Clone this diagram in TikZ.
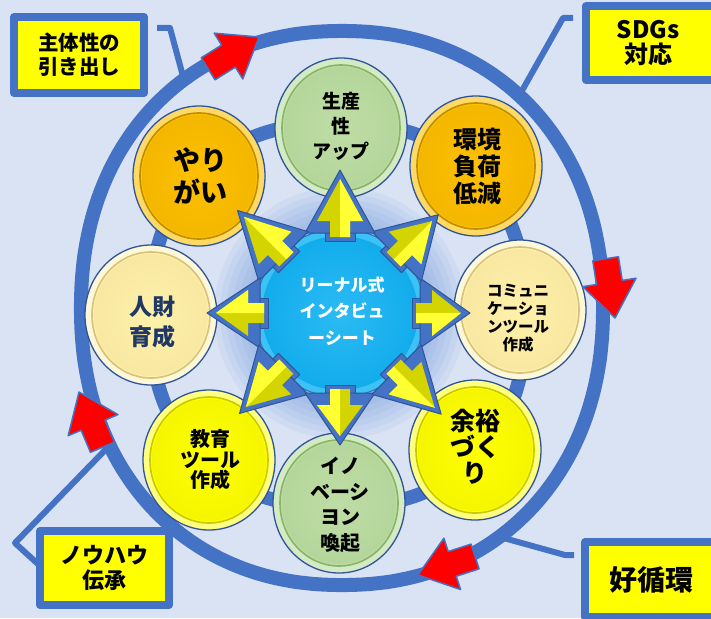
\documentclass[tikz,border=0pt]{standalone}
\usepackage{fontspec}
\setmainfont{Noto Sans CJK JP}
\definecolor{bgc}{HTML}{DAE3F3}
\definecolor{ringblue}{HTML}{4472C4}
\definecolor{edgeblue}{HTML}{2F5597}
\definecolor{boxyellow}{HTML}{FFFF00}
\definecolor{arrred}{HTML}{FF0000}
\definecolor{halo}{HTML}{6F9BE0}
\definecolor{goldrim}{HTML}{FFD966}
\definecolor{goldbase}{HTML}{FFC000}
\definecolor{golddark}{HTML}{BF8F00}
\definecolor{grnrim}{HTML}{D3EAC4}
\definecolor{grnbase}{HTML}{BEDDA6}
\definecolor{grndark}{HTML}{86B566}
\definecolor{crmrim}{HTML}{FFF8D8}
\definecolor{crmbase}{HTML}{FFF0AA}
\definecolor{crmdark}{HTML}{D6C27A}
\definecolor{ylwrim}{HTML}{FFFF80}
\definecolor{ylwbase}{HTML}{FFFF00}
\definecolor{ylwdark}{HTML}{C9C900}
\definecolor{cyrim}{HTML}{3CC2F5}
\definecolor{cybase}{HTML}{12ACEC}
\definecolor{cylight}{HTML}{2CBBF4}
\definecolor{cyedge}{HTML}{2A7FC0}
\definecolor{yeldark}{HTML}{D4D400}
\definecolor{yellight}{HTML}{FFFF33}
\definecolor{navy}{HTML}{1F3864}
\tikzset{
  ringline/.style={draw=ringblue, line width=14},
  callout/.style={draw=ringblue, line width=6},
  labelbox/.style={draw=ringblue, line width=8, fill=boxyellow, inner sep=0, align=center, text=black},
  ctext/.style={align=center, inner sep=0, text=black},
}
\newcommand\redarr[3]{%
  \begin{scope}[shift={(#1,#2)}, rotate=#3]
    \filldraw[fill=arrred, draw=ringblue, line width=1.5]
      (0,0) -- (-36,27) -- (-36,13) -- (-60,13) -- (-60,-13) -- (-36,-13) -- (-36,-27) -- cycle;
  \end{scope}}
\newcommand\btn[5]{%
  \filldraw[fill=#3, draw=edgeblue, line width=1.3] (#1,#2) ellipse [x radius=66, y radius=70];
  \filldraw[fill=#4, draw=#5, line width=1.6] (#1,#2) ellipse [x radius=59, y radius=63];
  \shade[inner color=#4, outer color=#4!82!#5] (#1,#2) ellipse [x radius=57, y radius=61];}
\newcommand\stararm[2]{%
  \begin{scope}[shift={(340,313)}, rotate=#1]
    \filldraw[fill=ringblue, draw=edgeblue, line width=1] (72,15) rectangle (92,-15);
    \filldraw[fill=ringblue, draw=edgeblue, line width=1] (#2,0) -- (80,35) -- (80,-35) -- cycle;
    \fill[yeldark] (#2-9,0) -- (92,23) -- (92,10) -- (76,10) -- (76,-10) -- (92,-10) -- (92,-23) -- cycle;
    \fill[yellight] (#2-9,0) -- (92,23) -- (92,10) -- (76,10) -- (76,0) -- cycle;
  \end{scope}}
\begin{document}
\begin{tikzpicture}[x=1pt,y=-1pt,line join=round]
\useasboundingbox (0,0) rectangle (711,618);
\fill[bgc] (0,0) rectangle (711,618);

% callout lines
\coordinate (k1a) at (157,28); \coordinate (k1b) at (170,28); \coordinate (r1) at (184,80);
\coordinate (k2a) at (573,18); \coordinate (k2b) at (563,18); \coordinate (r2) at (519,96);
\coordinate (k3a) at (38,564); \coordinate (k3b) at (15,543); \coordinate (r3) at (110,445);
\coordinate (k4a) at (574,555); \coordinate (k4b) at (565,555); \coordinate (r4) at (500,537);
\draw[callout] (k1a) -- (k1b) -- (r1);
\draw[callout] (k2a) -- (k2b) -- (r2);
\draw[callout] (k3a) -- (k3b) -- (r3);
\draw[callout] (k4a) -- (k4b) -- (r4);

% rings
\draw[ringline] plot[domain=0.75:359.25, samples=240]
  ({342+261*sign(cos(\x))*pow(abs(cos(\x))+0.00001,0.93)},
   {308+277*sign(sin(\x))*pow(abs(sin(\x))+0.00001,0.93)}) -- cycle;
\draw[ringline] plot[domain=0.75:359.25, samples=240]
  ({338+188*sign(cos(\x))*pow(abs(cos(\x))+0.00001,0.8696)},
   {315+192*sign(sin(\x))*pow(abs(sin(\x))+0.00001,0.8696)}) -- cycle;

% halo
\foreach \r in {126,120,...,88} \fill[halo, opacity=0.1] (340,313) circle (\r);

% surrounding circles
\btn{341}{128}{grnrim}{grnbase}{grndark}
\btn{476}{166}{goldrim}{goldbase}{golddark}
\btn{520}{310}{crmrim}{crmbase}{crmdark}
\btn{475}{450}{ylwrim}{ylwbase}{ylwdark}
\btn{339}{503}{grnrim}{grnbase}{grndark}
\btn{209}{460}{ylwrim}{ylwbase}{ylwdark}
\btn{151}{315}{crmrim}{crmbase}{crmdark}
\btn{199}{176}{goldrim}{goldbase}{golddark}

% centre disc
\filldraw[fill=cyrim, draw=cyedge, line width=1.2] (340,313) ellipse [x radius=85, y radius=84];
\shade[inner color=cylight, outer color=cybase] (340,313) ellipse [x radius=78, y radius=77];

% star arms
\stararm{0}{130}
\stararm{45}{139}
\stararm{90}{143}
\stararm{135}{145}
\stararm{180}{133}
\stararm{225}{142}
\stararm{270}{132}
\stararm{315}{143}

% red arrows on the outer ring
\redarr{259}{37}{32}
\redarr{615}{318}{-81}
\redarr{418}{575}{198}
\redarr{79}{392}{113}

% label boxes
\node[labelbox, minimum width=130, minimum height=76, font=\bfseries\fontsize{20.5}{24}\selectfont] (b1) at (79,55) {主体性の\\引き出し};
\node[labelbox, minimum width=132, minimum height=74, font=\bfseries\fontsize{24}{25}\selectfont] (b2) at (652,43) {SDGs\hspace*{8pt}\\対応\hspace*{8pt}};
\node[labelbox, minimum width=129, minimum height=74, font=\bfseries\fontsize{22}{25}\selectfont] (b3) at (104.5,568) {ノウハウ\\伝承};
\node[labelbox, minimum width=133, minimum height=75, font=\bfseries\fontsize{28}{30}\selectfont] (b4) at (651.5,579.5) {好循環};

% circle texts
\node[ctext, font=\bfseries\fontsize{19}{25}\selectfont] (t1) at (341,126) {生産\\性\\アップ};
\node[ctext, font=\bfseries\fontsize{24}{27}\selectfont] (t2) at (477,166) {環境\\負荷\\低減};
\node[ctext, font=\bfseries\fontsize{15.5}{18}\selectfont] (t3) at (518,318) {コミュニ\\ケーショ\\ンツール\\作成};
\node[ctext, font=\bfseries\fontsize{25}{26}\selectfont] (t4) at (475,447) {余裕\\づく\\り};
\node[ctext, font=\bfseries\fontsize{20}{25.5}\selectfont] (t5) at (340,505) {イノ\\ベーシ\\ヨン\\喚起};
\node[ctext, font=\bfseries\fontsize{20}{20.5}\selectfont] (t6) at (210,460) {教育\\ツール\\作成};
\node[ctext, text=navy, font=\bfseries\fontsize{23}{30}\selectfont] (t7) at (152,322) {人財\\育成};
\node[ctext, font=\bfseries\fontsize{27}{32}\selectfont] (t8) at (200,176) {やり\\がい};
\node[ctext, text=white, font=\bfseries\fontsize{17}{26.5}\selectfont] (t0) at (342,311) {リーナル式\\インタビュ\\ーシート};
\end{tikzpicture}
\end{document}
